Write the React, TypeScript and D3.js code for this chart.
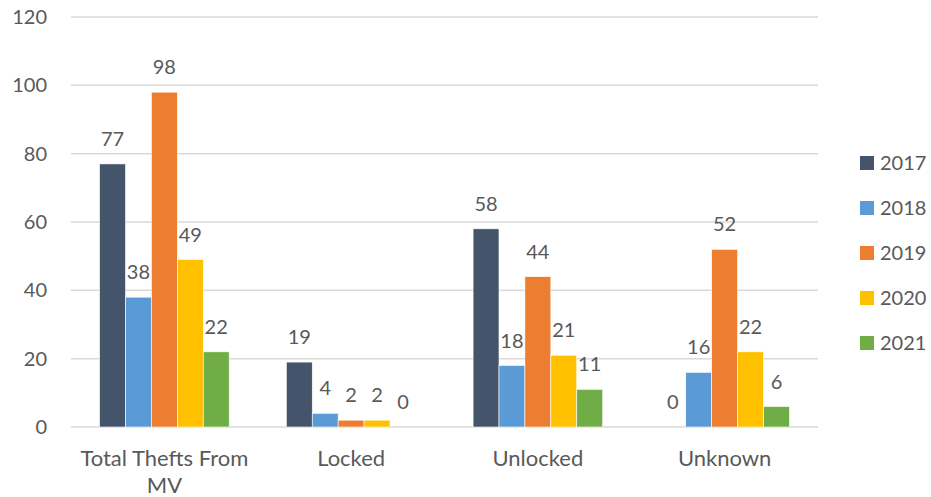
import React from "react";
import * as d3 from "d3";

const categories = ["Total Thefts From MV", "Locked", "Unlocked", "Unknown"];
const years = ["2017", "2018", "2019", "2020", "2021"];
const s2017 = [77, 19, 58, 0];
const s2018 = [38, 4, 18, 16];
const s2019 = [98, 2, 44, 52];
const s2020 = [49, 2, 21, 22];
const s2021 = [22, 0, 11, 6];
const seriesValues = [s2017, s2018, s2019, s2020, s2021];
const colors = ["#44546A", "#5B9BD5", "#ED7D31", "#FFC000", "#70AD47"];
const yTicks = [0, 20, 40, 60, 80, 100, 120];

const W = 931;
const H = 497;
const left = 71;
const right = 818;
const top = 17;
const bottom = 427;
const FONT = "Lato, 'Open Sans', sans-serif";
const TEXT = "#595959";

export default function App() {
  const y = d3.scaleLinear().domain([0, 120]).range([bottom, top]);
  const x0 = d3.scaleBand<string>().domain(categories).range([left, right]);
  const pad = x0.bandwidth() * 0.153;
  const x1 = d3
    .scaleBand<string>()
    .domain(years)
    .range([pad, x0.bandwidth() - pad]);

  const wrap = (s: string) => (s === "Total Thefts From MV" ? ["Total Thefts From", "MV"] : [s]);

  return (
    <svg width={W} height={H} style={{ position: "absolute", left: 0, top: 0, background: "#fff" }} fontFamily={FONT}>
      {yTicks.map((t) => (
        <g key={t}>
          <line x1={left} x2={right} y1={y(t)} y2={y(t)} stroke="#D9D9D9" strokeWidth={1.5} />
          <text x={47} y={y(t)} dy="0.35em" textAnchor="end" fontSize={20} fill={TEXT}>
            {t}
          </text>
        </g>
      ))}
      {categories.map((c, ci) => (
        <g key={c} transform={`translate(${x0(c)},0)`}>
          {years.map((yr, si) => {
            const v = seriesValues[si][ci];
            const bx = x1(yr)!;
            const bw = x1.bandwidth();
            return (
              <g key={yr}>
                <rect x={bx} y={y(v)} width={bw} height={bottom - y(v)} fill={colors[si]} stroke="#fff" strokeWidth={0.6} />
                <text x={bx + bw / 2} y={y(v) - 18} textAnchor="middle" fontSize={20} fill={TEXT}>
                  {v}
                </text>
              </g>
            );
          })}
          {wrap(c).map((line, li) => (
            <text key={li} x={x0.bandwidth() / 2} y={466 + li * 27} textAnchor="middle" fontSize={22} fill={TEXT}>
              {line}
            </text>
          ))}
        </g>
      ))}
      {years.map((yr, i) => (
        <g key={yr} transform={`translate(860,${163 + i * 45})`}>
          <rect x={0} y={-7} width={14} height={14} fill={colors[i]} />
          <text x={20} y={0} dy="0.35em" fontSize={20} fill={TEXT}>
            {yr}
          </text>
        </g>
      ))}
    </svg>
  );
}
